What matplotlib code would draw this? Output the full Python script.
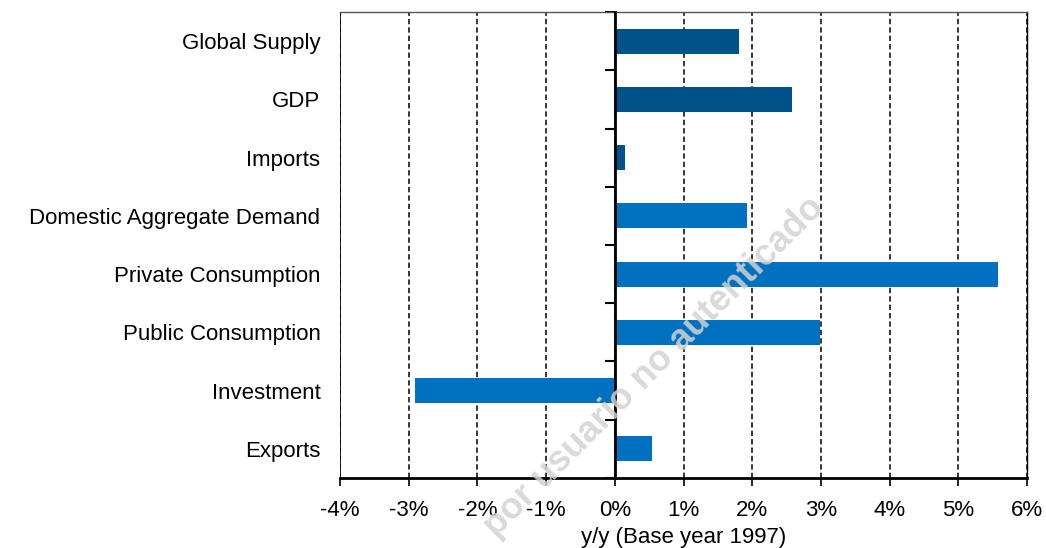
import matplotlib.pyplot as plt
import numpy as np

plt.rcParams['font.family'] = ['Liberation Sans', 'DejaVu Sans']

categories = ['Global Supply', 'GDP', 'Imports', 'Domestic Aggregate Demand',
              'Private Consumption', 'Public Consumption', 'Investment', 'Exports']
growth = [1.81, 2.58, 0.15, 1.93, 5.58, 2.99, -2.91, 0.54]
bar_colors = ['#00538A'] * 3 + ['#0070C0'] * 5
xticks = np.arange(-4, 7, 1)

fig = plt.figure(figsize=(10.46, 5.48), dpi=100)
ax = fig.add_axes([0.325, 0.128, 0.657, 0.85])

y = np.arange(len(categories))
ax.barh(y, growth, height=0.43, color=bar_colors, zorder=3)

ax.set_xlim(-4, 6)
ax.set_ylim(len(categories) - 0.5, -0.5)
ax.set_xticks(xticks)
ax.set_xticklabels(['%d%%' % t for t in xticks], fontsize=16)
ax.tick_params(axis='x', direction='out', length=6, width=1.2, pad=10)
ax.set_xlabel('y/y (Base year 1997)', fontsize=16, labelpad=4)

# grid
ax.grid(axis='x', color='black', linestyle=(0, (3.5, 2)), linewidth=1.1)
ax.set_axisbelow(True)

# y axis drawn at zero, labels pushed to the left edge
ax.spines['left'].set_position(('data', 0))
ax.spines['left'].set_linewidth(2)
ax.spines['left'].set_zorder(4)
ax.set_yticks(y)
ax.set_yticklabels(categories, fontsize=16)
ax.set_yticks(np.arange(len(categories) + 1) - 0.5, minor=True)
ax.tick_params(axis='y', which='major', length=0, pad=212)
ax.tick_params(axis='y', which='minor', direction='out', length=7, width=1.5)

ax.axvline(-4, color='black', linewidth=1.2, zorder=2)
ax.spines['bottom'].set_linewidth(2)
ax.spines['top'].set_color('#555555')
ax.spines['top'].set_linewidth(1)
ax.spines['right'].set_linewidth(1)

# watermark
fig.text(0.625, 0.33, 'por usuario no autenticado', fontsize=26, fontweight='bold',
         color='#D3D3D3', rotation=45, ha='center', va='center', zorder=10,
         alpha=0.85)

fig.savefig('out.png', dpi=100)
